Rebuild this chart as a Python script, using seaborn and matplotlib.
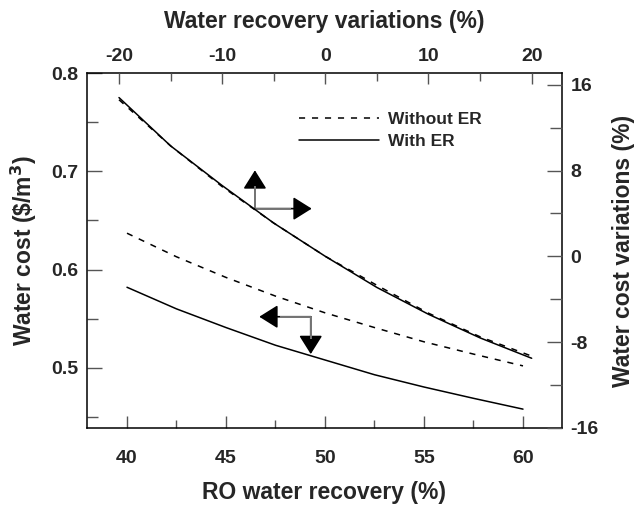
import matplotlib
matplotlib.use("Agg")
import matplotlib.pyplot as plt
import seaborn as sns
import pandas as pd
from matplotlib.ticker import MultipleLocator
from matplotlib.lines import Line2D

# ---- data ----
recovery = [40, 42.5, 45, 47.5, 50, 52.5, 55, 57.5, 60]
cost_without_er = [0.637, 0.613, 0.592, 0.573, 0.556, 0.541, 0.5265, 0.514, 0.502]
cost_with_er = [0.582, 0.560, 0.541, 0.523, 0.508, 0.493, 0.4805, 0.469, 0.458]

recovery_var = [-20, -15, -10, -5, 0, 5, 10, 15, 20]
costvar_without_er = [14.6, 10.3, 6.5, 3.1, 0.0, -2.7, -5.3, -7.5, -9.3]
costvar_with_er = [14.8, 10.3, 6.6, 3.1, 0.0, -2.9, -5.4, -7.6, -9.5]

series_labels = ["Without ER", "With ER"]

sns.set_style("ticks")
plt.rcParams["font.family"] = ["Liberation Sans", "DejaVu Sans"]
plt.rcParams["font.weight"] = "bold"
plt.rcParams["axes.labelweight"] = "bold"
plt.rcParams["axes.unicode_minus"] = False

df_cost = pd.DataFrame({"recovery": recovery * 2,
                        "cost": cost_without_er + cost_with_er,
                        "case": [series_labels[0]] * len(recovery) + [series_labels[1]] * len(recovery)})
df_var = pd.DataFrame({"rvar": recovery_var * 2,
                       "cvar": costvar_without_er + costvar_with_er,
                       "case": [series_labels[0]] * len(recovery_var) + [series_labels[1]] * len(recovery_var)})

fig = plt.figure(figsize=(6.41, 5.07), dpi=100)
pos = [87 / 641, (507 - 428) / 507, 475 / 641, 355 / 507]
ax = fig.add_axes(pos)
ax2 = fig.add_axes(pos, frameon=False)

dash = (4, 4.5)
lw = 1.1
sns.lineplot(data=df_cost, x="recovery", y="cost", style="case", style_order=series_labels,
             dashes={series_labels[0]: dash, series_labels[1]: ""}, color="black", lw=lw,
             ax=ax, legend=False)
sns.lineplot(data=df_var, x="rvar", y="cvar", style="case", style_order=series_labels,
             dashes={series_labels[0]: dash, series_labels[1]: ""}, color="black", lw=lw,
             ax=ax2, legend=False)

LBL = 16.5
TCK = 14
# bottom / left axes
ax.set_xlim(37.98, 61.97)
ax.set_ylim(0.4388, 0.8)
ax.xaxis.set_major_locator(MultipleLocator(5))
ax.xaxis.set_minor_locator(MultipleLocator(2.5))
ax.yaxis.set_major_locator(MultipleLocator(0.1))
ax.yaxis.set_minor_locator(MultipleLocator(0.05))
ax.set_xlabel("RO water recovery (%)", fontsize=LBL, fontweight="bold", labelpad=10)
ax.set_ylabel("Water cost (\\$/m$^\\mathbf{3}$)", fontsize=LBL, fontweight="bold", labelpad=9)
ax.tick_params(axis="x", which="major", direction="in", length=9, width=1, color="#555",
               labelsize=TCK, pad=16)
ax.tick_params(axis="x", which="minor", direction="in", length=6, width=1, color="#555")
ax.tick_params(axis="y", which="major", direction="in", length=11, width=1, color="#555",
               labelsize=TCK, pad=6)
ax.tick_params(axis="y", which="minor", direction="in", length=8, width=1, color="#555")
for s in ax.spines.values():
    s.set_linewidth(1.1)
    s.set_color("black")
    s.set_visible(True)

# top / right axes
ax2.set_xlim(-23.1, 22.94)
ax2.set_ylim(-16, 17.09)
ax2.xaxis.tick_top()
ax2.xaxis.set_label_position("top")
ax2.yaxis.tick_right()
ax2.yaxis.set_label_position("right")
ax2.xaxis.set_major_locator(MultipleLocator(10))
ax2.xaxis.set_minor_locator(MultipleLocator(5))
ax2.yaxis.set_major_locator(MultipleLocator(8))
ax2.yaxis.set_minor_locator(MultipleLocator(4))
ax2.set_xlabel("Water recovery variations (%)", fontsize=LBL, fontweight="bold", labelpad=14)
ax2.set_ylabel("Water cost variations (%)", fontsize=LBL, fontweight="bold", labelpad=10)
ax2.tick_params(axis="x", which="major", direction="in", length=8, width=1, color="#555",
                labelsize=TCK, pad=6, top=True, bottom=False)
ax2.tick_params(axis="x", which="minor", direction="in", length=6, width=1, color="#555",
                top=True, bottom=False)
ax2.tick_params(axis="y", which="major", direction="in", length=11, width=1, color="#555",
                labelsize=TCK, pad=6, right=True, left=False)
ax2.tick_params(axis="y", which="minor", direction="in", length=9, width=1, color="#555",
                right=True, left=False)
for lab in ax.get_xticklabels() + ax.get_yticklabels() + ax2.get_xticklabels() + ax2.get_yticklabels():
    lab.set_fontweight("bold")

# legend
handles = [Line2D([], [], color="black", lw=lw, dashes=dash),
           Line2D([], [], color="black", lw=lw)]
ax.legend(handles, series_labels, loc="center left", bbox_to_anchor=((299 - 87) / 475, (428 - 130.2) / 355),
          frameon=False, borderpad=0, borderaxespad=0, handlelength=4.6, handletextpad=0.55,
          labelspacing=0.4, prop={"size": 12.5, "weight": "bold"})

# direction arrows: black heads, grey shafts
ap = dict(arrowstyle="-|>,head_length=1.15,head_width=0.72", mutation_scale=10,
          color="black", lw=1.2, shrinkA=0, shrinkB=0)
shaft = dict(color="#777", lw=1.4, solid_capstyle="butt", zorder=5)
# arrow pointing to top/right axes
ax.annotate("", xy=(46.46, 0.701), xytext=(46.46, 0.662), arrowprops=ap)
ax.annotate("", xy=(49.33, 0.662), xytext=(46.46, 0.662), arrowprops=ap)
ax.plot([46.46, 46.46, 48.28], [0.6852, 0.662, 0.662], **shaft)
# arrow pointing to bottom/left axes
ax.annotate("", xy=(46.68, 0.552), xytext=(49.28, 0.552), arrowprops=ap)
ax.annotate("", xy=(49.28, 0.514), xytext=(49.28, 0.552), arrowprops=ap)
ax.plot([47.73, 49.28, 49.28], [0.552, 0.552, 0.529], **shaft)

fig.savefig("out.png", dpi=100)
